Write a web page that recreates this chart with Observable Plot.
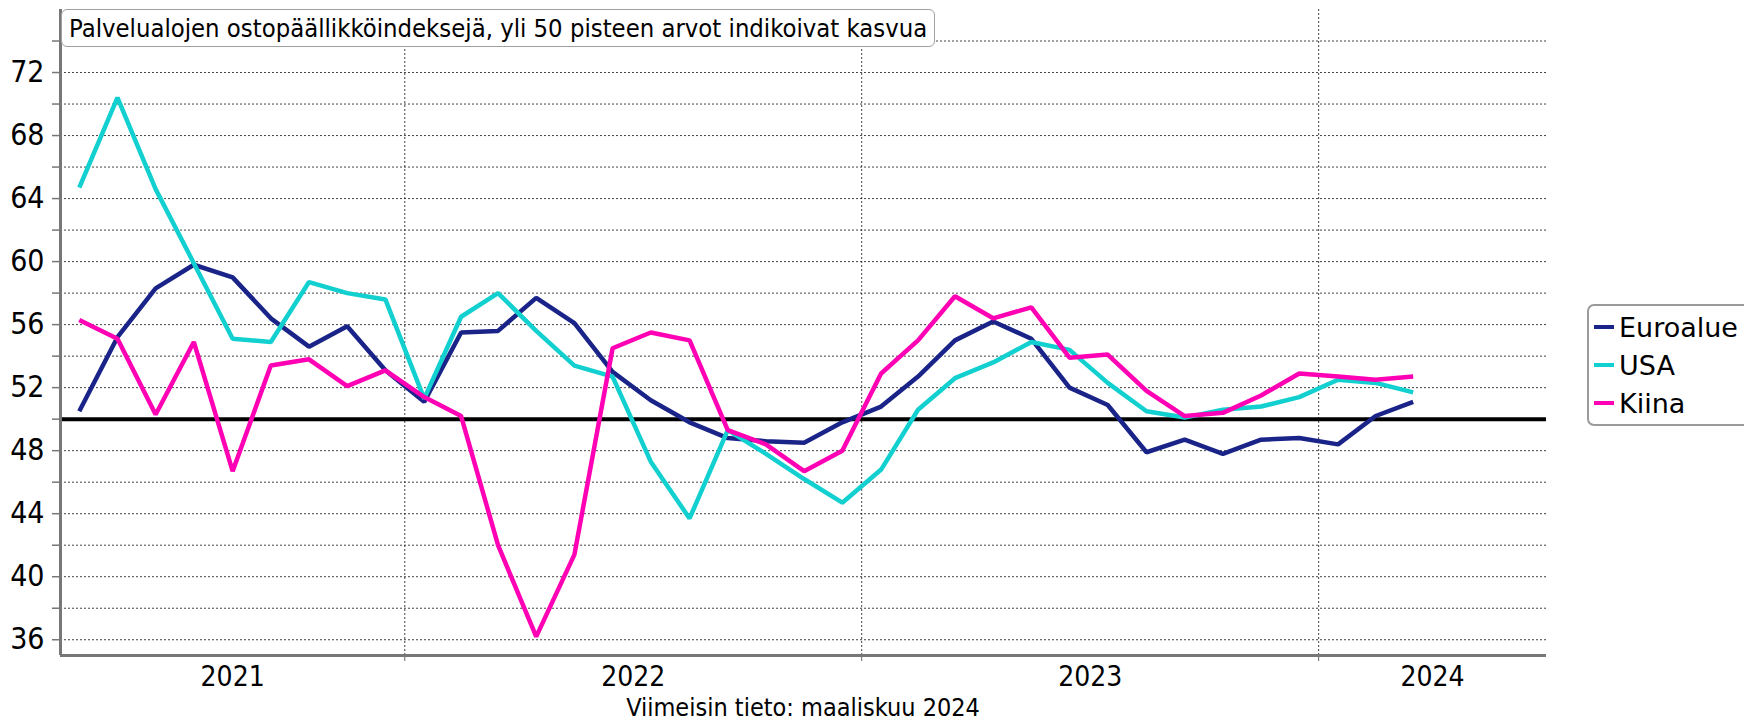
<!DOCTYPE html>
<html>
<head>
<meta charset="utf-8">
<script src="https://cdn.jsdelivr.net/npm/d3@7"></script>
<script src="https://cdn.jsdelivr.net/npm/@observablehq/plot@0.6"></script>
<style>
  body { margin: 0; background: #fff; font-family: "DejaVu Sans", Verdana, sans-serif; }
  #wrap { position: relative; width: 1744px; height: 721px; overflow: hidden; }
  .cond { font-family: "DejaVu Sans Condensed", "DejaVu Sans", sans-serif; font-stretch: condensed; }
  #title { position: absolute; left: 61px; top: 9px; height: 36px; padding: 0 7px; border: 1px solid #a0a0a0;
           border-radius: 6px; background: #fff; font-size: 25.4px; line-height: 36px; white-space: nowrap; color: #000; }
  #legend { position: absolute; left: 1587px; top: 304px; width: 170px; height: 118px; border: 2px solid #9a9a9a;
            border-radius: 7px; background: #fff; }
  .item { position: absolute; left: 5px; height: 38px; display: flex; align-items: center; font-size: 27px; color: #000; white-space: nowrap; }
  .sw { width: 20px; height: 4px; margin-right: 5px; }
  #caption { position: absolute; left: 60px; width: 1486px; top: 694px; text-align: center; font-size: 25px; line-height: 28px; color: #000; }
  svg text { font-family: "DejaVu Sans Condensed", "DejaVu Sans", sans-serif; font-stretch: condensed; }
</style>
</head>
<body>
<div id="wrap">
  <div id="chart"></div>
  <div id="title" class="cond"></div>
  <div id="legend"></div>
  <div id="caption" class="cond"></div>
</div>
<script>
// ---- Data ----
const titleText = "Palvelualojen ostopäällikköindeksejä, yli 50 pisteen arvot indikoivat kasvua";
const captionText = "Viimeisin tieto: maaliskuu 2024";
const seriesNames = ["Euroalue", "USA", "Kiina"];
const seriesColors = ["#1a2488", "#12d0d0", "#ff00b4"];
const firstMonth = "2021-04-01";
const lastMonth = "2024-03-01";
const years = [2021, 2022, 2023, 2024];
const yLabelTicks = [36, 40, 44, 48, 52, 56, 60, 64, 68, 72];
const yMinorTicks = [36, 38, 40, 42, 44, 46, 48, 50, 52, 54, 56, 58, 60, 62, 64, 66, 68, 70, 72, 74];
const threshold = 50;

const euroalue = [50.5, 55.2, 58.3, 59.8, 59.0, 56.4, 54.6, 55.9, 53.1,
                  51.1, 55.5, 55.6, 57.7, 56.1, 53.0, 51.2, 49.8, 48.8, 48.6, 48.5, 49.8,
                  50.8, 52.7, 55.0, 56.2, 55.1, 52.0, 50.9, 47.9, 48.7, 47.8, 48.7, 48.8,
                  48.4, 50.2, 51.1];
const usa = [64.7, 70.4, 64.6, 59.9, 55.1, 54.9, 58.7, 58.0, 57.6,
             51.3, 56.5, 58.0, 55.6, 53.4, 52.7, 47.3, 43.7, 49.3, 47.8, 46.2, 44.7,
             46.8, 50.6, 52.6, 53.6, 54.9, 54.4, 52.3, 50.5, 50.1, 50.6, 50.8, 51.4,
             52.5, 52.3, 51.7];
const kiina = [56.3, 55.1, 50.3, 54.9, 46.7, 53.4, 53.8, 52.1, 53.1,
               51.4, 50.2, 42.0, 36.2, 41.4, 54.5, 55.5, 55.0, 49.3, 48.4, 46.7, 48.0,
               52.9, 55.0, 57.8, 56.4, 57.1, 53.9, 54.1, 51.8, 50.2, 50.4, 51.5, 52.9,
               52.7, 52.5, 52.7];
const seriesValues = [euroalue, usa, kiina];

// ---- Build table ----
const months = d3.utcMonth.range(new Date(firstMonth), d3.utcMonth.offset(new Date(lastMonth), 1));
const mid = (m) => new Date((+m + +d3.utcMonth.offset(m, 1)) / 2);
const rows = [];
seriesNames.forEach((name, i) => {
  seriesValues[i].forEach((v, j) => rows.push({ series: name, date: mid(months[j]), value: v }));
});

const xStart = new Date(firstMonth);
const xEnd = new Date(Date.UTC(years[years.length - 1], 6, 1));
const boundaries = years.slice(1).map(y => new Date(Date.UTC(y, 0, 1)));
const yearMids = years.map(y => {
  const a = Math.max(+xStart, Date.UTC(y, 0, 1));
  const b = Math.min(+xEnd, Date.UTC(y + 1, 0, 1));
  return new Date((a + b) / 2);
});

const chart = Plot.plot({
  width: 1744,
  height: 721,
  marginLeft: 60,
  marginRight: 198,
  marginTop: 9,
  marginBottom: 66,
  style: { fontFamily: "DejaVu Sans Condensed, DejaVu Sans, sans-serif", background: "#fff", overflow: "visible" },
  x: { type: "utc", domain: [xStart, xEnd], label: null },
  y: { domain: [35, 76], label: null },
  color: { domain: seriesNames, range: seriesColors },
  marks: [
    Plot.gridY(yMinorTicks, { stroke: "#222", strokeOpacity: 0.85, strokeDasharray: "2,2", strokeWidth: 1 }),
    Plot.gridX(boundaries, { stroke: "#222", strokeOpacity: 0.85, strokeDasharray: "2,2", strokeWidth: 1 }),
    Plot.axisY(yMinorTicks, { tickSize: 8, stroke: "#777", strokeWidth: 1.5, tickFormat: () => "", label: null }),
    Plot.axisY(yLabelTicks, { tickSize: 0, tickPadding: 16, fontSize: 30, fill: "#000", tickFormat: d => String(d), label: null }),
    Plot.axisX(boundaries, { tickSize: 6, stroke: "#666", strokeWidth: 1, tickFormat: () => "", label: null }),
    Plot.axisX(yearMids, { tickSize: 0, tickPadding: 11, fontSize: 28, fill: "#000", tickFormat: d => String(d.getUTCFullYear()), label: null }),
    Plot.ruleY([threshold], { stroke: "#000", strokeWidth: 4 }),
    Plot.line(rows, { x: "date", y: "value", z: "series", stroke: "series", strokeWidth: 4.5,
                      strokeLinejoin: "miter", strokeLinecap: "butt" }),
    Plot.ruleX([xStart], { stroke: "#777", strokeWidth: 3 }),
    Plot.ruleY([35], { stroke: "#777", strokeWidth: 3 })
  ]
});
document.getElementById("chart").appendChild(chart);

// ---- Title, legend, caption ----
document.getElementById("title").textContent = titleText;
document.getElementById("caption").textContent = captionText;
const legend = document.getElementById("legend");
seriesNames.forEach((name, i) => {
  const item = document.createElement("div");
  item.className = "item";
  item.style.top = (2 + i * 38) + "px";
  const sw = document.createElement("div");
  sw.className = "sw";
  sw.style.background = seriesColors[i];
  const t = document.createElement("span");
  t.textContent = name;
  item.appendChild(sw);
  item.appendChild(t);
  legend.appendChild(item);
});
</script>
</body>
</html>
